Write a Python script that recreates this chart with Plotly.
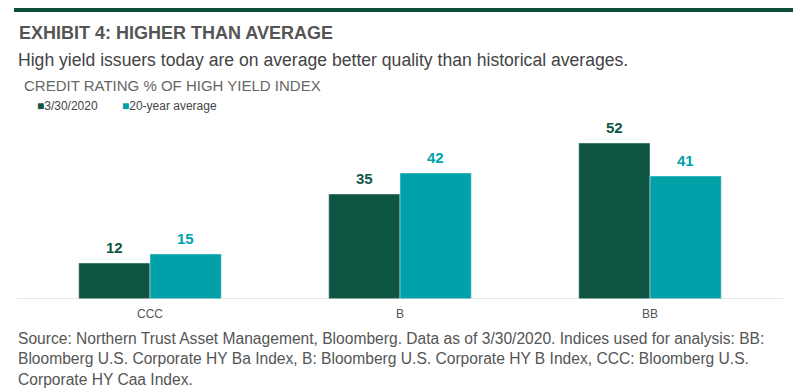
import plotly.graph_objects as go

categories = ["CCC", "B", "BB"]
current = [12, 35, 52]
average20 = [15, 42, 41]
series_names = ["3/30/2020", "20-year average"]

DARK = "#0f5543"
TEAL = "#00a1a9"
FONT = "Liberation Sans"

W, H = 800, 389
ML, MR, MT, MB = 25, 25, 119, 90
PW, PH = W - ML - MR, H - MT - MB
BARGAP = 0.43
bar_px = PW / len(categories) * (1 - BARGAP) / 2

fig = go.Figure()
fig.add_bar(x=categories, y=current, name=series_names[0], marker_color=DARK)
fig.add_bar(x=categories, y=average20, name=series_names[1], marker_color=TEAL)

# value labels, positioned through the data axes
for vals, color, sign in [(current, DARK, -1), (average20, TEAL, 1)]:
    for c, v in zip(categories, vals):
        fig.add_annotation(x=c, y=v, xref="x", yref="y", text=f"<b>{v}</b>",
                           showarrow=False, xshift=sign * bar_px / 2, yshift=16,
                           yanchor="middle",
                           font=dict(family=FONT, size=15, color=color))

fig.update_layout(
    width=W, height=H,
    margin=dict(l=ML, r=MR, t=MT, b=MB),
    paper_bgcolor="white", plot_bgcolor="white",
    barmode="group", bargap=BARGAP, bargroupgap=0,
    showlegend=False,
    font=dict(family=FONT, color="#555"),
    xaxis=dict(showgrid=False, showline=False, ticks="", zeroline=False,
               ticklabelstandoff=6,
               tickfont=dict(family=FONT, size=12, color="#555")),
    yaxis=dict(range=[0, 60], visible=False),
)

def py(ypix):
    return (H - MB - ypix) / PH

def px(xpix):
    return (xpix - ML) / PW

# top rule
fig.add_shape(type="line", xref="paper", yref="paper",
              x0=px(14), x1=px(793), y0=py(10), y1=py(10),
              line=dict(color="#0b4d3a", width=4))
# baseline
fig.add_shape(type="line", xref="paper", yref="y",
              x0=px(17), x1=px(783), y0=0, y1=0,
              line=dict(color="#d0d0d0", width=1))

anns = [
    dict(text="<b>EXHIBIT 4: HIGHER THAN AVERAGE</b>", x=px(17), y=py(33),
         font=dict(size=18, color="#555")),
    dict(text="High yield issuers today are on average better quality than historical averages.",
         x=px(16), y=py(60), font=dict(size=17.6, color="#444")),
    dict(text="CREDIT RATING % OF HIGH YIELD INDEX", x=px(22), y=py(85),
         font=dict(size=15, color="#666")),
    dict(text=f"<span style='color:{DARK}'>■</span>{series_names[0]}", x=px(35), y=py(106),
         font=dict(size=12, color="#444")),
    dict(text=f"<span style='color:{TEAL}'>■</span>{series_names[1]}", x=px(120), y=py(106),
         font=dict(size=12, color="#444")),
    dict(text="Source: Northern Trust Asset Management, Bloomberg. Data as of 3/30/2020. Indices used for analysis: BB:<br>"
              "Bloomberg U.S. Corporate HY Ba Index, B: Bloomberg U.S. Corporate HY B Index, CCC: Bloomberg U.S.<br>"
              "Corporate HY Caa Index.",
         x=px(16), y=py(359), font=dict(size=15.6, color="#555")),
]
for a in anns:
    fig.add_annotation(xref="paper", yref="paper", xanchor="left", yanchor="middle",
                       showarrow=False, align="left", **a)

fig.write_html("out.html", config={"displayModeBar": False},
               post_script="document.body.style.margin='0';")
